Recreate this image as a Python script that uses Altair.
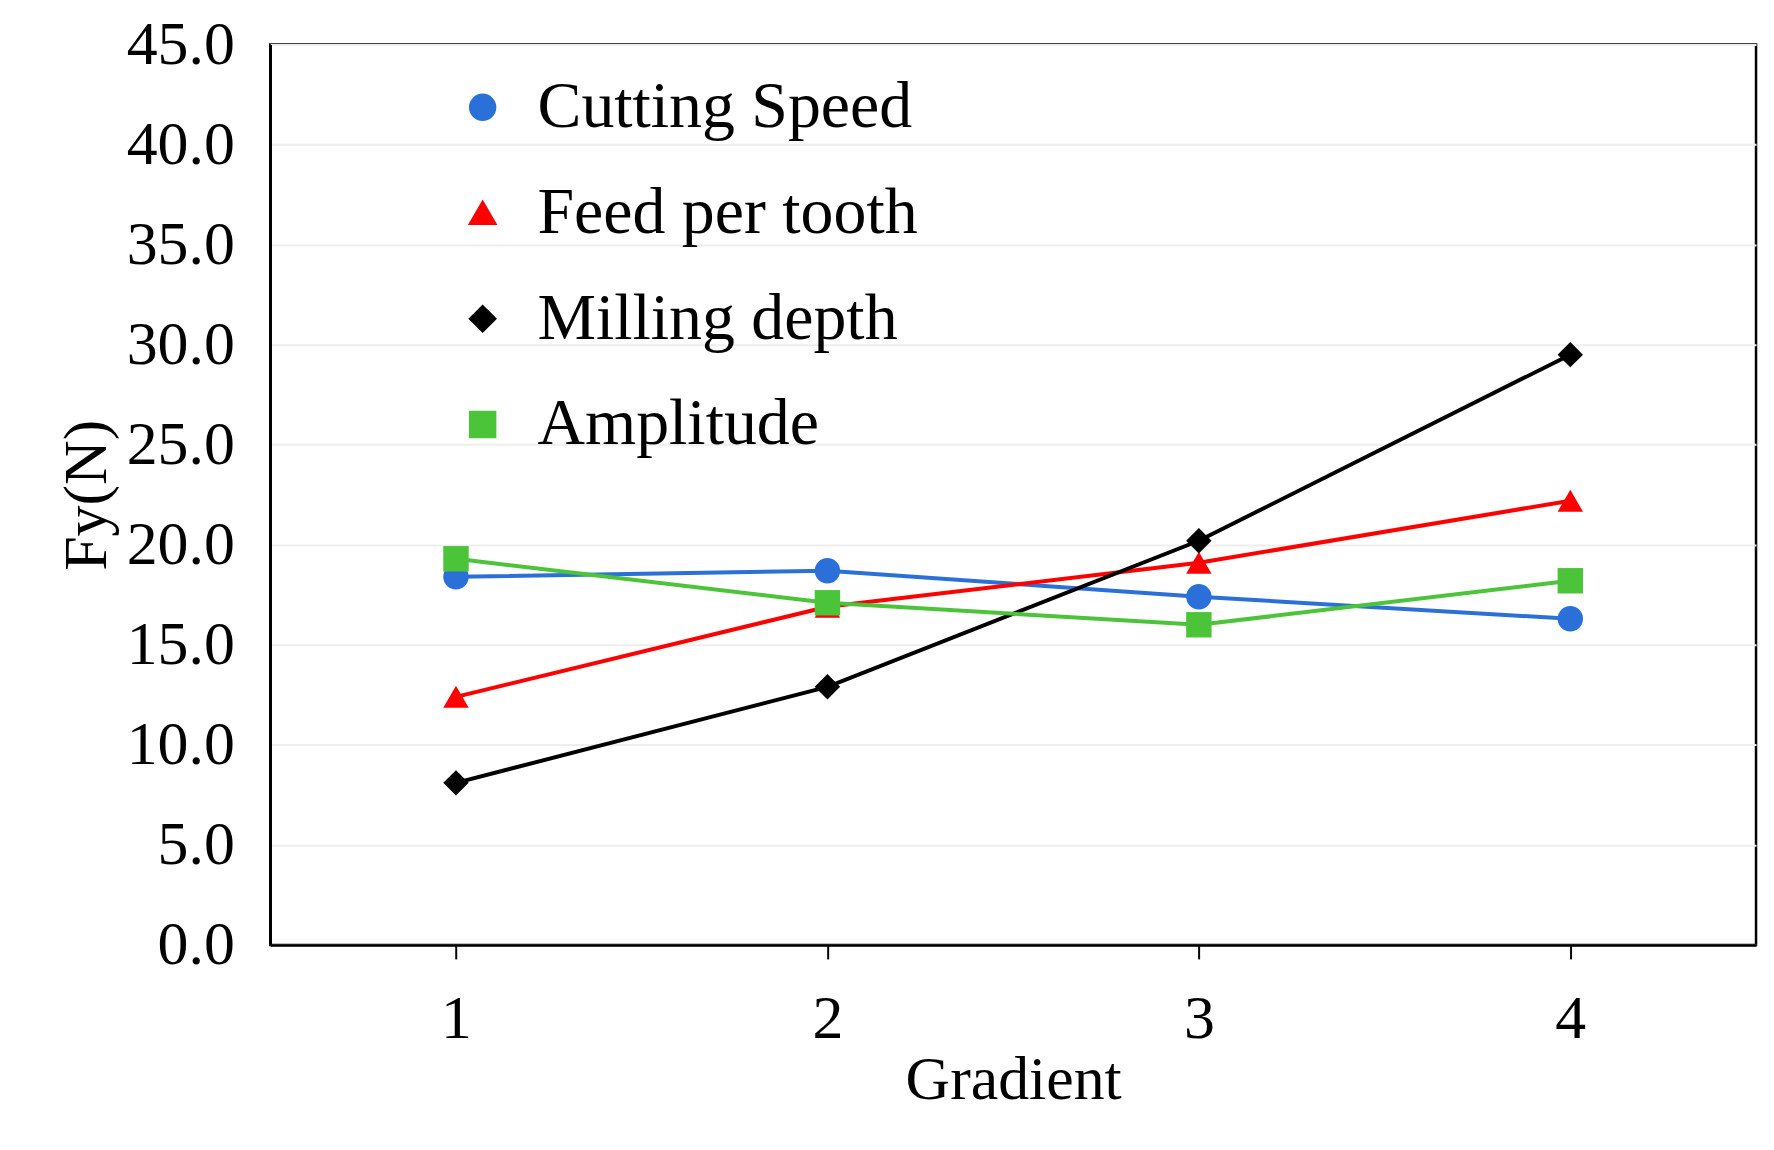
import altair as alt
import pandas as pd

gradient = [1, 2, 3, 4]
series = ["Cutting Speed", "Feed per tooth", "Milling depth", "Amplitude"]
cutting_speed = [18.4, 18.7, 17.4, 16.3]
feed_per_tooth = [12.4, 16.9, 19.1, 22.2]
milling_depth = [8.1, 12.9, 20.2, 29.5]
amplitude = [19.3, 17.1, 16.0, 18.2]
colors = ["#2a70d8", "#ff0000", "#000000", "#4cc43a"]
shapes = ["circle", "triangle-up", "diamond", "square"]

rows = []
for name, vals in zip(series, [cutting_speed, feed_per_tooth, milling_depth, amplitude]):
    for g, v in zip(gradient, vals):
        rows.append({"Gradient": g, "Fy": v, "series": name})
df = pd.DataFrame(rows)

font = "Liberation Serif"

base = alt.Chart(df).encode(
    x=alt.X("Gradient:Q", scale=alt.Scale(domain=[0.5, 4.5], nice=False),
            axis=alt.Axis(values=gradient, format="d", grid=False, tickSize=14,
                          labelPadding=30, titlePadding=0)),
    y=alt.Y("Fy:Q", title="Fy(N)", scale=alt.Scale(domain=[0, 45], nice=False),
            axis=alt.Axis(values=[i * 5 for i in range(10)], format=".1f",
                          tickSize=0, labelPadding=36, titlePadding=8)),
    color=alt.Color("series:N", sort=series,
                    scale=alt.Scale(domain=series, range=colors),
                    legend=alt.Legend(orient="none", legendX=180, legendY=30, title=None,
                                      labelFontSize=66, labelFont=font, rowPadding=40,
                                      labelLimit=0, symbolSize=600, symbolStrokeWidth=3,
                                      labelOffset=22)),
    shape=alt.Shape("series:N", sort=series,
                    scale=alt.Scale(domain=series, range=shapes), legend=None),
)

lines = base.mark_line(strokeWidth=4).encode(shape=alt.value("circle"))
points = base.mark_point(filled=True, size=650, opacity=1)

chart = alt.layer(lines, points).resolve_legend(color="shared").properties(
    width=1490, height=903,
    autosize=alt.AutoSizeParams(type="none"),
    padding={"left": 263, "top": 35, "right": 10, "bottom": 195},
).configure_axis(
    labelFont=font, titleFont=font, labelFontSize=62, titleFontSize=62,
    labelColor="black", titleColor="black", titleFontWeight="normal",
    domainColor="black", domainWidth=2.5, tickColor="black", tickWidth=2,
    gridColor="#eeeeee", gridWidth=2,
).configure_view(stroke="black", strokeWidth=2.5)

chart.save("out.html", embed_options={"renderer": "svg", "actions": False})
